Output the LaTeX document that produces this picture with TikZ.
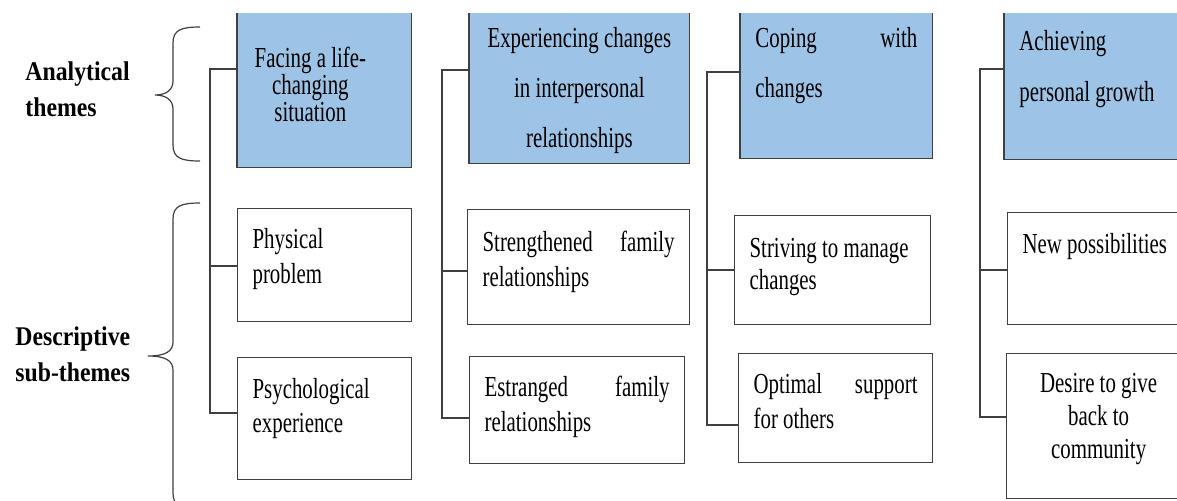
\documentclass[tikz,border=0pt]{standalone}
\usepackage{fontspec}
\setmainfont{Liberation Serif}
\newfontfamily\boxfont{Liberation Serif}[FakeStretch=0.72]
\newfontfamily\sidefont{Liberation Serif}[FakeStretch=0.88]
\usepackage{tikz}
\usepackage{xcolor}
\definecolor{themeblue}{RGB}{157,195,230}

% box text: [top pad]{height}{width}{text}, all in pt
\newcommand\cell[4][10]{\parbox[c][#2pt][t]{#3pt}{\vspace*{#1pt}#4}}

\tikzset{
  theme/.style={fill=themeblue,inner xsep=7.5pt,inner ysep=0pt,anchor=north west,
    font=\boxfont\fontsize{14.5}{17}\selectfont},
  subtheme/.style={draw=black!75,line width=.6pt,inner xsep=7.5pt,inner ysep=0pt,anchor=north west,
    font=\boxfont\fontsize{14.5}{17}\selectfont},
  side/.style={inner sep=0pt,anchor=north west,align=left,
    font=\sidefont\bfseries\fontsize{13.5}{18}\selectfont},
  link/.style={draw=black!75,line width=.6pt},
}

\begin{document}
\begin{tikzpicture}[x=.5pt,y=-.5pt]
        \useasboundingbox (0,0) rectangle (1177,500);
        \clip (0,0) rectangle (1177,500);
        % side labels and braces
        \node[side] (analytical) at (25,61) {Analytical\\themes};
        \node[side] (descriptive) at (15,326) {Descriptive\\sub-themes};
        \foreach \t/\m/\b/\p in {27/95/161/155, 203/356/509/148}
        \draw[link] (200,\t) .. controls (181,\t) and (173,\t+3) .. (173,\t+16) -- (173,\m-14)
                .. controls (173,\m-5) and (166,\m) .. (\p,\m)
                .. controls (166,\m) and (173,\m+5) .. (173,\m+14) -- (173,\b-16)
                .. controls (173,\b-3) and (181,\b) .. (200,\b);
        % analytical themes
        \node[theme] (h1) at (237,13) {\cell[17]{77}{72}{\centering\rightskip=14pt plus 1fil
                \setlength\baselineskip{13.5pt}Facing~a~life-\\changing\\situation}};
        \node[theme] (h2) at (469,13) {\cell[7]{75}{95}{\centering
                \setlength\baselineskip{25pt}Experiencing changes\\in interpersonal\\relationships}};
        \node[theme] (h3) at (740,13) {\cell[7]{72.5}{81}{\setlength\baselineskip{25pt}Coping\hfill with\\changes}};
        \node[theme] (h4) at (1004,13) {\cell[8.5]{73}{78}{\setlength\baselineskip{25.5pt}Achieving\\personal growth}};
        \foreach \h in {h1,h2,h3,h4}
        \draw[link] (\h.north west) -- (\h.south west) -- (\h.south east) -- (\h.north east);
        % descriptive sub-themes
        \node[subtheme] (s11) at (237,208) {\cell{56.5}{72}{\setlength\baselineskip{17.5pt}Physical\\problem}};
        \node[subtheme] (s12) at (237,357) {\cell[10.5]{61}{72}{Psychological\\experience}};
        \node[subtheme] (s21) at (467,209) {\cell[10.5]{57.5}{96}{\setlength\baselineskip{17.5pt}Strengthened\hfill family\\relationships}};
        \node[subtheme] (s22) at (469,356) {\cell[9.5]{53.5}{92.5}{\setlength\baselineskip{17.5pt}Estranged\hfill family\\relationships}};
        \node[subtheme] (s31) at (734,215) {\cell[11.5]{54.5}{83}{\setlength\baselineskip{16pt}Striving to manage\\changes}};
        \node[subtheme] (s32) at (738,353) {\cell{54.5}{82}{\setlength\baselineskip{17.5pt}Optimal\hfill support\\for others}};
        \node[subtheme] (s41) at (1007,212) {\cell[10.5]{56}{76.5}{New possibilities}};
        \node[subtheme] (s42) at (1006,353) {\cell{72.5}{77}{\centering
                \setlength\baselineskip{16.5pt}Desire to give\\back to\\community}};
        % connectors
        \foreach \c/\x/\t/\m/\b in {1/210/69/266/413, 2/442/70/271/418, 3/707/72/270/425, 4/980/69/270/417} {
                \coordinate (top\c) at (\x,\t);
                \coordinate (mid\c) at (\x,\m);
                \coordinate (bot\c) at (\x,\b);
                \draw[link] (h\c.west |- top\c) -- (top\c) -- (bot\c) -- (bot\c -| s\c2.west);
                \draw[link] (mid\c) -- (mid\c -| s\c1.west);
        }
      \end{tikzpicture}
\end{document}
